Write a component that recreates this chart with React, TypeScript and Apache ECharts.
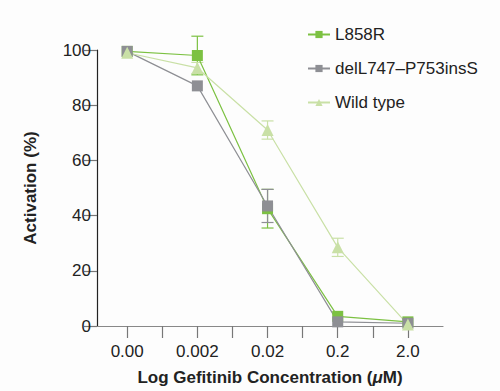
import React, { useEffect, useRef } from "react";
import * as echarts from "echarts";

const concentrations = ["0.00", "0.002", "0.02", "0.2", "2.0"];
const seriesNames = ["L858R", "delL747\u2013P753insS", "Wild type"];
const l858r = [99.5, 98, 42.5, 3.5, 1.5];
const l858rErr = [0, 7, 7, 0, 0];
const delIns = [99.5, 87, 43.5, 1.5, 1];
const delInsErr = [0, 0, 6, 0, 0];
const wildType = [99, 93.5, 71, 28.5, 0.5];
const wildTypeErr = [0, 2, 3.3, 3.3, 0];
const yTicks = [0, 20, 40, 60, 80, 100];

const colors = ["#7cc142", "#8e8f94", "#c9e0a6"];

const FONT = "'Liberation Sans', Arial, Helvetica, sans-serif";
const FS = 17;

function errData(vals: number[], errs: number[]) {
  return vals
    .map((v, i) => [i, v - errs[i], v + errs[i]])
    .filter((d, i) => errs[i] > 0);
}

function errSeries(name: string, vals: number[], errs: number[], color: string) {
  return {
    type: "custom",
    name: name + "-err",
    silent: true,
    z: 1,
    data: errData(vals, errs),
    renderItem: (params: any, api: any) => {
      const x = api.value(0);
      const lo = api.coord([x, api.value(1)]);
      const hi = api.coord([x, api.value(2)]);
      const cap = 6;
      const style = { stroke: color, lineWidth: 1.2 };
      return {
        type: "group",
        children: [
          { type: "line", shape: { x1: lo[0], y1: lo[1], x2: hi[0], y2: hi[1] }, style },
          { type: "line", shape: { x1: lo[0] - cap, y1: lo[1], x2: lo[0] + cap, y2: lo[1] }, style },
          { type: "line", shape: { x1: hi[0] - cap, y1: hi[1], x2: hi[0] + cap, y2: hi[1] }, style },
        ],
      };
    },
  };
}

function lineSeries(name: string, vals: number[], color: string, symbol: string, size: number) {
  return {
    type: "line",
    name,
    z: 3,
    data: vals.map((v, i) => [i, v]),
    symbol,
    symbolSize: size,
    showAllSymbol: true,
    lineStyle: { color, width: 1.2 },
    itemStyle: { color, borderWidth: 0 },
  };
}

export default function App() {
  const ref = useRef<HTMLDivElement>(null);
  useEffect(() => {
    if (!ref.current) return;
    const chart = echarts.init(ref.current, null, { renderer: "svg" });
    chart.setOption({
      animation: false,
      backgroundColor: "#fdfdfd",
      grid: { left: 97, right: 57, top: 50, bottom: 65 },
      legend: {
        orient: "vertical",
        left: 302,
        top: 21,
        itemWidth: 22,
        itemHeight: 9,
        itemGap: 17,
        data: seriesNames,
        textStyle: { fontFamily: FONT, fontSize: FS, color: "#222" },
      },
      xAxis: {
        type: "value",
        min: -0.43,
        max: 4.5,
        name: "Log Gefitinib Concentration ({i|\u03bc}M)",
        nameLocation: "middle",
        nameGap: 43,
        nameTextStyle: {
          fontFamily: FONT,
          fontSize: FS,
          fontWeight: "bold",
          color: "#222",
          rich: {
            i: { fontFamily: FONT, fontSize: FS, fontWeight: "bold", fontStyle: "italic", color: "#222" },
          },
        },
        splitLine: { show: false },
        axisLine: { onZero: false, lineStyle: { color: "#888", width: 1.2 } },
        axisTick: {
          length: 12,
          inside: false,
          lineStyle: { color: "#777", width: 1.2 },
          customValues: [0, 0.5, 1, 1.5, 2, 2.5, 3, 3.5, 4],
        },
        axisLabel: {
          customValues: [0, 1, 2, 3, 4],
          margin: 17,
          fontFamily: FONT,
          fontSize: FS,
          color: "#222",
          formatter: (v: number) => concentrations[Math.round(v)] ?? "",
        },
      },
      yAxis: {
        type: "value",
        min: 0,
        max: 100,
        interval: 20,
        name: "Activation (%)",
        nameLocation: "middle",
        nameGap: 58,
        nameTextStyle: { fontFamily: FONT, fontSize: FS, fontWeight: "bold", color: "#222" },
        splitLine: { show: false },
        axisLine: { show: true, onZero: false, lineStyle: { color: "#222", width: 1.2 } },
        axisTick: { show: true, length: 13, lineStyle: { color: "#777", width: 1.2 } },
        axisLabel: {
          margin: 6,
          fontFamily: FONT,
          fontSize: FS,
          color: "#222",
          customValues: yTicks,
        },
      },
      series: [
        errSeries(seriesNames[0], l858r, l858rErr, colors[0]),
        errSeries(seriesNames[1], delIns, delInsErr, colors[1]),
        errSeries(seriesNames[2], wildType, wildTypeErr, colors[2]),
        lineSeries(seriesNames[0], l858r, colors[0], "rect", 11),
        lineSeries(seriesNames[1], delIns, colors[1], "rect", 11),
        lineSeries(seriesNames[2], wildType, colors[2], "triangle", 12),
      ],
    });
    return () => chart.dispose();
  }, []);
  return (
    <div
      ref={ref}
      style={{ position: "absolute", left: 0, top: 0, width: 500, height: 391 }}
    />
  );
}
